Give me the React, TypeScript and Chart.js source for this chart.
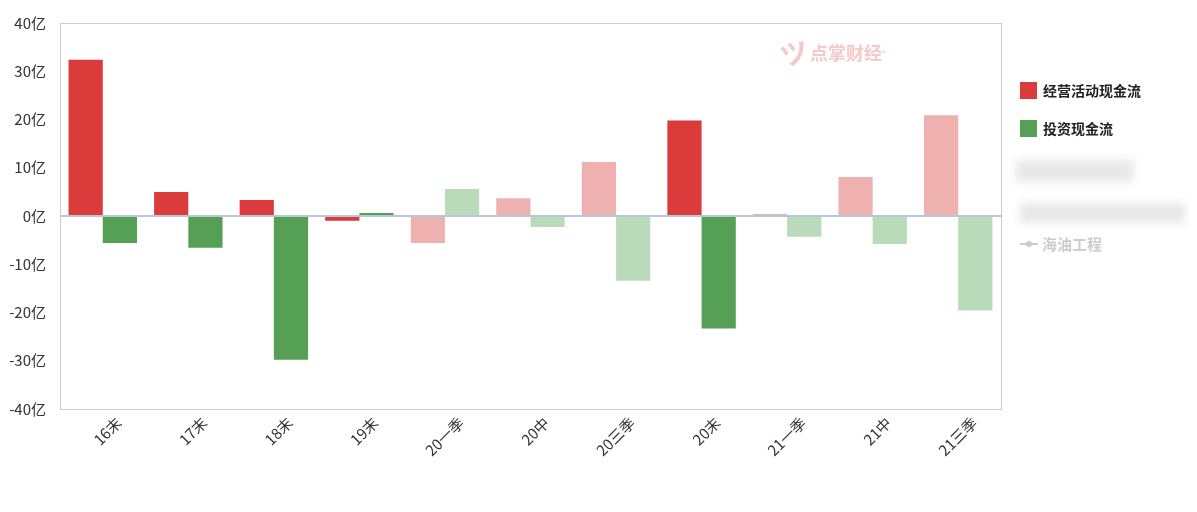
import React, { useEffect, useRef } from "react";
import { Chart, registerables } from "chart.js";

Chart.register(...registerables);

const categories = ["16末", "17末", "18末", "19末", "20一季", "20中", "20三季", "20末", "21一季", "21中", "21三季"];
const operatingCash = [32.4, 5.0, 3.3, -1.0, -5.6, 3.7, 11.2, 19.8, 0.4, 8.1, 20.9];
const investCash = [-5.6, -6.6, -29.8, 0.6, 5.6, -2.3, -13.4, -23.3, -4.3, -5.8, -19.6];
const isYearEnd = [true, true, true, true, false, false, false, true, false, false, false];
const yTicks = [-40, -30, -20, -10, 0, 10, 20, 30, 40];

const RED = "#dc3b3b";
const RED_LIGHT = "#efb0b0";
const GREEN = "#55a055";
const GREEN_LIGHT = "#badbba";

const FONT = "'Noto Sans CJK SC', 'Noto Sans', sans-serif";

export default function App() {
  const ref = useRef<HTMLCanvasElement | null>(null);

  useEffect(() => {
    if (!ref.current) return;
    const frame = {
      id: "frame",
      afterDraw(chart: any) {
        const { ctx, chartArea: a } = chart;
        ctx.save();
        ctx.strokeStyle = "#cccccc";
        ctx.lineWidth = 1;
        ctx.strokeRect(Math.round(a.left) + 0.5, Math.round(a.top) + 0.5, Math.round(a.right - a.left), Math.round(a.bottom - a.top));
        const y0 = chart.scales.y.getPixelForValue(0);
        ctx.strokeStyle = "#b8c6da";
        ctx.lineWidth = 2;
        ctx.beginPath();
        ctx.moveTo(a.left, y0);
        ctx.lineTo(a.right, y0);
        ctx.stroke();
        // x labels, rotated 45°
        const xs = chart.scales.x;
        ctx.fillStyle = "#333";
        ctx.font = `15px ${FONT}`;
        ctx.textAlign = "right";
        ctx.textBaseline = "middle";
        categories.forEach((c, i) => {
          const x = xs.getPixelForValue(i);
          ctx.save();
          ctx.translate(x + 16, a.bottom + 11);
          ctx.rotate(-Math.PI / 4);
          ctx.fillText(c, 0, 0);
          ctx.restore();
        });
        ctx.restore();
      },
    };
    const chart = new Chart(ref.current, {
      type: "bar",
      data: {
        labels: categories,
        datasets: [
          {
            label: "经营活动现金流",
            data: operatingCash,
            backgroundColor: isYearEnd.map((d) => (d ? RED : RED_LIGHT)),
          },
          {
            label: "投资现金流",
            data: investCash,
            backgroundColor: isYearEnd.map((d) => (d ? GREEN : GREEN_LIGHT)),
          },
        ],
      },
      options: {
        animation: false,
        responsive: false,
        maintainAspectRatio: false,
        layout: { padding: { top: 14, left: 0, right: 188, bottom: 0 } },
        datasets: { bar: { barPercentage: 1, categoryPercentage: 0.8 } },
        plugins: { legend: { display: false }, tooltip: { enabled: false } },
        scales: {
          x: {
            grid: { display: false },
            border: { display: false },
            ticks: { display: false },
            afterFit(scale: any) {
              scale.height = 95;
            },
          },
          y: {
            min: -40,
            max: 40,
            afterBuildTicks(scale: any) {
              scale.ticks = yTicks.map((v) => ({ value: v }));
            },
            grid: { display: false },
            border: { display: false },
            ticks: {
              color: "#333",
              font: { family: FONT, size: 15 },
              padding: 6,
              callback: (v: any) => `${v}亿`,
            },
            afterFit(scale: any) {
              scale.width = 52;
            },
          },
        },
      },
      plugins: [frame],
    });
    return () => chart.destroy();
  }, []);

  const legendItem = (color: string, text: string, top: number) => (
    <div style={{ position: "absolute", left: 1012, top, display: "flex", alignItems: "center", fontFamily: FONT, fontSize: 14, fontWeight: 700, color: "#222" }}>
      <span style={{ display: "inline-block", width: 17, height: 17, background: color, marginRight: 6 }} />
      <span>{text}</span>
    </div>
  );

  return (
    <div style={{ position: "relative", width: 1181, height: 496 }}>
      <canvas ref={ref} width={1181} height={496} style={{ display: "block" }} />
      <div style={{ position: "absolute", left: 772, top: 24, display: "flex", alignItems: "center", color: "#f6c9c9", fontFamily: FONT, fontWeight: 700, fontSize: 18, pointerEvents: "none" }}>
        <span style={{ fontSize: 28, marginRight: 2, display: "inline-block", transform: "rotate(-15deg)" }}>ツ</span>
        <span>点掌财经</span>
        <sup style={{ fontSize: 8, fontWeight: 400 }}>®</sup>
      </div>
      {legendItem(RED, "经营活动现金流", 72)}
      {legendItem(GREEN, "投资现金流", 110)}
      <div style={{ position: "absolute", left: 1008, top: 152, width: 118, height: 22, background: "#e2e2e2", filter: "blur(4px)", opacity: 0.8 }} />
      <div style={{ position: "absolute", left: 1012, top: 195, width: 165, height: 20, background: "#e2e2e2", filter: "blur(4px)", opacity: 0.8 }} />
      <div style={{ position: "absolute", left: 1012, top: 225, display: "flex", alignItems: "center", fontFamily: FONT, fontSize: 15, fontWeight: 700, color: "#cccccc" }}>
        <span style={{ position: "relative", display: "inline-block", width: 18, height: 10, marginRight: 4 }}>
          <span style={{ position: "absolute", left: 0, top: 4, width: 18, height: 2, background: "#cccccc" }} />
          <span style={{ position: "absolute", left: 6, top: 2, width: 6, height: 6, borderRadius: 3, background: "#cccccc" }} />
        </span>
        <span>海油工程</span>
      </div>
    </div>
  );
}
